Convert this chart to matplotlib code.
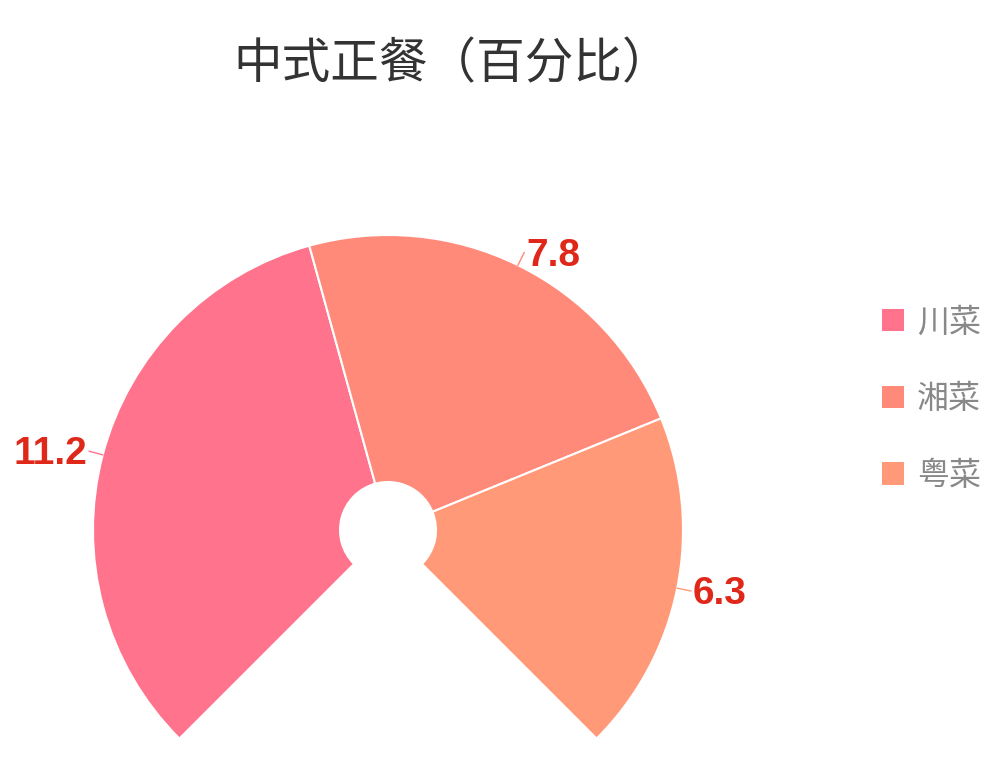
import numpy as np
import matplotlib.pyplot as plt
from matplotlib.patches import Patch

plt.rcParams['font.family'] = ['Noto Sans CJK SC', 'DejaVu Sans']

# 数据
categories = ['川菜', '湘菜', '粤菜']
values = [11.2, 7.8, 6.3]
labels = ['11.2', '7.8', '6.3']
colors = ['#FF738C', '#FF8A7A', '#FF9977']

fig = plt.figure(figsize=(10, 7.78), dpi=100)
ax = fig.add_axes([0, 0, 1, 1])

# 饼图只占 270 度
total = sum(values)
fracs = [v / total * 0.75 for v in values]
cx, cy = 388, 778 - 530
r_out, r_in = 295, 48

wedges, _ = ax.pie(fracs, colors=colors, radius=r_out, center=(cx, cy),
                   startangle=225, counterclock=False, normalize=False,
                   wedgeprops=dict(width=r_out - r_in, edgecolor='white', linewidth=1.5),
                   frame=True)
ax.set_xlim(0, 1000)
ax.set_ylim(0, 778)
ax.set_aspect('equal')
ax.axis('off')

# 数值标签
for w, lab, col in zip(wedges, labels, colors):
    ang = np.deg2rad((w.theta1 + w.theta2) / 2)
    x0 = cx + r_out * np.cos(ang)
    y0 = cy + r_out * np.sin(ang)
    x1 = cx + (r_out + 14) * np.cos(ang)
    y1 = cy + (r_out + 14) * np.sin(ang)
    ha = 'left' if np.cos(ang) > 0 else 'right'
    ax.plot([x0, x1], [y0, y1], color=col, lw=1)
    ax.text(x1 + (2 if ha == 'left' else -2), y1 - 3, lab, ha=ha, va='center',
            fontsize=28, fontweight='bold', color='#E0281A',
            family=['Liberation Sans', 'DejaVu Sans'])

# 标题
fig.text(0.452, 1 - 65 / 778, '中式正餐（百分比）', ha='center', va='center',
         fontsize=35, color='#333333')

# 图例
handles = [Patch(facecolor=c, edgecolor='none') for c in colors]
leg = ax.legend(handles, categories, loc='center left', bbox_to_anchor=(0.853, 0.487),
                frameon=False, fontsize=23, labelcolor='#888888',
                handlelength=0.7, handleheight=0.7, handletextpad=0.4,
                labelspacing=1.4)

fig.savefig('out.png', dpi=100)
